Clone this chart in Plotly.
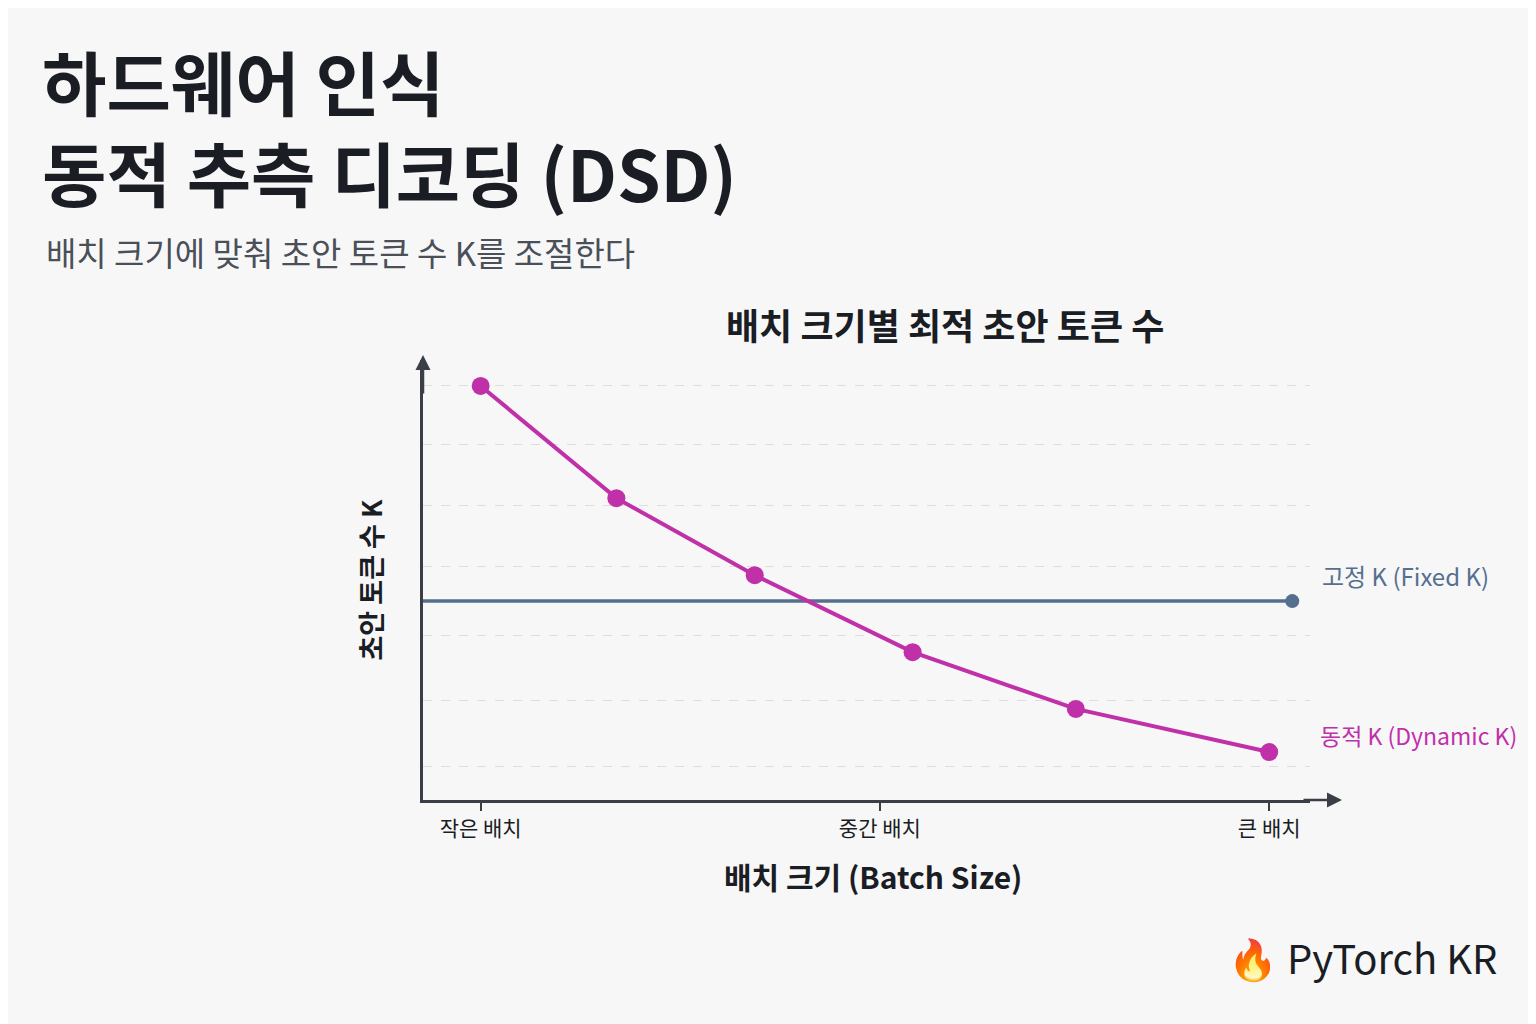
import plotly.graph_objects as go

# batch position (axis units) and optimal K (axis units)
batch_x = [0.65, 2.18, 3.74, 5.52, 7.36, 9.54]
dynamic_k = [9.41, 6.86, 5.11, 3.36, 2.07, 1.09]
fixed_x = [0, 9.8]
fixed_k = [4.52, 4.52]
grid_vals = [0.77, 2.27, 3.73, 5.3, 6.7, 8.07, 9.43]
tick_x = [0.65, 5.15, 9.54]
tick_text = ["작은 배치", "중간 배치", "큰 배치"]

FONT = "Noto Sans CJK KR"
PINK = "#c030a8"
SLATE = "#55708f"
OFF = 8  # page offset of the figure

fig = go.Figure()
fig.add_trace(go.Scatter(x=fixed_x, y=fixed_k, mode="lines", line=dict(color=SLATE, width=3.5),
                         hoverinfo="skip"))
fig.add_trace(go.Scatter(x=fixed_x[-1:], y=fixed_k[-1:], mode="markers",
                         marker=dict(color=SLATE, size=14), hoverinfo="skip"))
fig.add_trace(go.Scatter(x=batch_x, y=dynamic_k, mode="lines+markers",
                         line=dict(color=PINK, width=4), marker=dict(color=PINK, size=18)))

ann = [
    dict(text="<b>하드웨어 인식<br>동적 추측 디코딩 (DSD)</b>", x=40, y=28, font=dict(size=70, color="#1a1d23")),
    dict(text="배치 크기에 맞춰 초안 토큰 수 K를 조절한다", x=44, y=226, font=dict(size=33, color="#4a4f58")),
    dict(text="<b>배치 크기별 최적 초안 토큰 수</b>", x=724, y=296, font=dict(size=36, color="#1a1d23")),
    dict(text="<b>배치 크기 (Batch Size)</b>", x=722, y=852, font=dict(size=30, color="#1a1d23")),
    dict(text="고정 K (Fixed K)", x=1320, y=556, font=dict(size=24, color=SLATE)),
    dict(text="동적 K (Dynamic K)", x=1318, y=716, font=dict(size=23, color=PINK)),
    dict(text="🔥 PyTorch KR", x=1226, y=926, font=dict(size=40, color="#1a1d23")),
]
L, R, T, B = 423, 1310, 360, 800
annotations = []
for a in ann:
    annotations.append(dict(text=a["text"], x=(a["x"] - L) / (R - L), y=(B - a["y"]) / (B - T),
                            xref="paper", yref="paper",
                            xanchor="left", yanchor="top", showarrow=False, align="left",
                            font=dict(family=FONT, **a["font"])))
annotations.append(dict(text="<b>초안 토큰 수 K</b>", textangle=-90, x=(348 - L) / (R - L), y=0.5,
                        xref="paper", yref="paper", showarrow=False,
                        font=dict(family=FONT, size=27, color="#1a1d23")))
# axis arrows
annotations.append(dict(x=(1342 - L) / (R - L), y=0, ax=-40, ay=0, xref="paper", yref="paper",
                        showarrow=True, arrowhead=2, arrowsize=1.2,
                        arrowwidth=2.5, arrowcolor="#3a3f47", text=""))
annotations.append(dict(x=0, y=(B - 355) / (B - T), ax=0, ay=40, xref="paper", yref="paper",
                        showarrow=True, arrowhead=2, arrowsize=1.2,
                        arrowwidth=2.5, arrowcolor="#3a3f47", text=""))

fig.update_layout(
    width=1536, height=1024, paper_bgcolor="#f7f7f8", plot_bgcolor="#f7f7f8",
    margin=dict(l=L - OFF, r=1536 - R + OFF, t=T - OFF, b=1024 - B + OFF), showlegend=False,
    annotations=annotations,
    xaxis=dict(range=[0, 10], tickvals=tick_x, ticktext=tick_text, ticks="outside", ticklen=8,
               tickcolor="#3a3f47", tickwidth=2, showgrid=False, zeroline=False,
               showline=True, linecolor="#3a3f47", linewidth=2.5,
               tickfont=dict(family=FONT, size=21, color="#1a1d23")),
    yaxis=dict(range=[0, 10], tickvals=grid_vals, showticklabels=False, showgrid=True,
               gridcolor="#dcdde0", griddash="dash", gridwidth=1, zeroline=False,
               showline=True, linecolor="#3a3f47", linewidth=2.5),
)
fig.write_html("out.html")
